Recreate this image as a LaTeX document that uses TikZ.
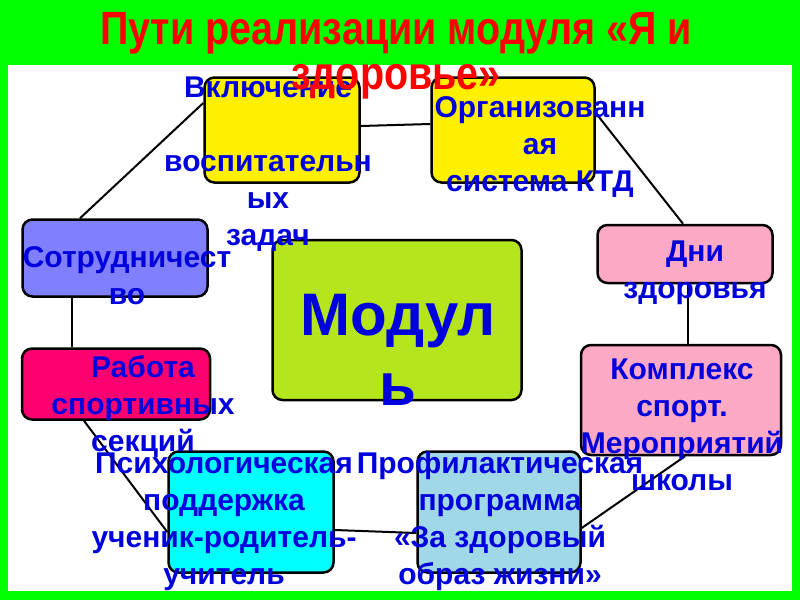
\documentclass[tikz,border=0pt]{standalone}
\usepackage{fontspec}
\setmainfont{Liberation Sans}
\usepackage{xcolor}
\usepackage{tikz}
\usetikzlibrary{positioning}
\definecolor{slidegreen}{HTML}{00FF00}
\definecolor{titlered}{HTML}{FF0000}
\definecolor{textblue}{HTML}{0000DD}
\definecolor{boxyellow}{HTML}{FFF000}
\definecolor{boxlilac}{HTML}{8080FF}
\definecolor{boxpink}{HTML}{FBA9C4}
\definecolor{boxmagenta}{HTML}{FF0070}
\definecolor{boxlime}{HTML}{B5E61D}
\definecolor{boxcyan}{HTML}{00FFFF}
\definecolor{boxsky}{HTML}{A0D8E8}
\newcommand{\tallline}[1]{\scalebox{1}[1.18]{#1}}

\tikzset{
    waybox/.style={draw=black, line width=2.5pt, rounded corners=10pt, inner sep=0pt},
    waytext/.style={text=textblue, align=center, inner sep=0pt,
        font=\fontsize{30}{37}\selectfont\bfseries},
    link/.style={draw=black, line width=2pt}
}

\begin{document}
\begin{tikzpicture}[x=1pt, y=-1pt]
\useasboundingbox (0,0) rectangle (800,600);
\fill[slidegreen] (0,0) rectangle (800,600);
\fill[white] (8,65) rectangle (792,591);

% boxes
\node[waybox, fill=boxyellow, minimum width=155pt, minimum height=105pt] (incl) at (282,130) {};
\node[waybox, fill=boxyellow, minimum width=163pt, minimum height=105pt] (ktd) at (513,130) {};
\node[waybox, fill=boxpink, minimum width=175pt, minimum height=58pt] (dni) at (685,254) {};
\node[waybox, fill=boxlilac, minimum width=185pt, minimum height=77pt] (sotr) at (115,258) {};
\node[waybox, fill=boxlime, minimum width=249pt, minimum height=160pt] (modul) at (397,320) {};
\node[waybox, fill=boxmagenta, minimum width=188pt, minimum height=71pt] (rabota) at (116,384) {};
\node[waybox, fill=boxpink, minimum width=200pt, minimum height=110pt] (kompl) at (681,400) {};
\node[waybox, fill=boxcyan, minimum width=165pt, minimum height=121pt] (psych) at (251,512) {};
\node[waybox, fill=boxsky, minimum width=163pt, minimum height=121pt] (prof) at (499,512) {};

% connectors
\draw[link] (incl.east |- 0,126) -- (ktd.west |- 0,124);
\draw[link] (incl.west |- 0,103) -- (sotr.north -| 80,0);
\draw[link] (ktd.east |- 0,113) -- (dni.north -| 683,0);
\draw[link] (dni.south -| 688,0) -- (kompl.north -| 688,0);
\draw[link] (sotr.south -| 72,0) -- (rabota.north -| 72,0);
\draw[link] (rabota.south -| 84,0) -- (psych.west |- 0,532);
\draw[link] (psych.east |- 0,530) -- (prof.west |- 0,533);
\draw[link] (kompl.south -| 685,0) -- (prof.east |- 0,528);

% texts
\node[waytext] (incltext) at (268,164) {Включение\\ \\воспитательн\\ых\\задач};
\node[waytext] (ktdtext) at (540,147) {Организованн\\ая\\система КТД};
\node[waytext] (dnitext) at (695,273) {Дни\\здоровья};
\node[waytext] (sotrtext) at (127,276) {Сотрудничест\\во};
\node[waytext, font=\fontsize{60}{70}\selectfont\bfseries] (modultext) at (398,350) {Модул\\ь};
\node[waytext] (rabotatext) at (143,406) {Работа\\спортивных\\секций};
\node[waytext] (kompltext) at (682,425) {Комплекс\\спорт.\\Мероприятий\\школы};
\node[waytext] (psychtext) at (224,522) {Психологическая\\поддержка\\ученик-родитель-\\учитель};
\node[waytext] (proftext) at (500,521) {Профилактическая\\программа\\«За здоровый\\образ жизни»};

% title
\node[text=titlered, align=center, inner sep=0pt, font=\fontsize{39.5}{45}\selectfont\bfseries]
    (title) at (396,56) {\tallline{Пути реализации модуля «Я и}\\\tallline{здоровье»}};
\end{tikzpicture}
\end{document}
